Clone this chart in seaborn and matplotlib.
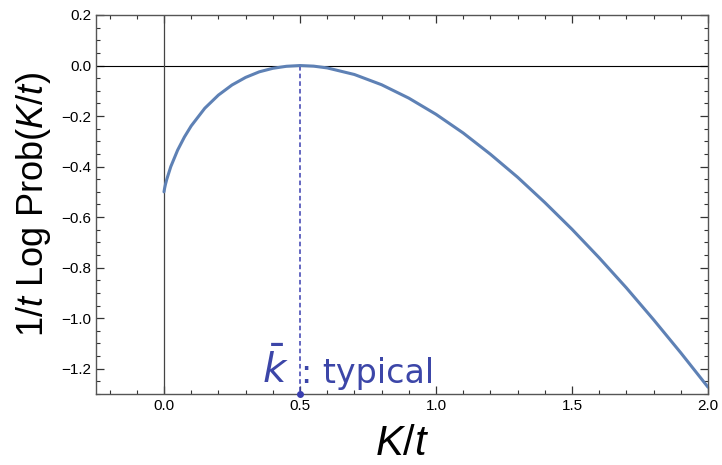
import numpy as np
import pandas as pd
import matplotlib
matplotlib.use("Agg")
import matplotlib.pyplot as plt
from matplotlib.ticker import MultipleLocator
import seaborn as sns

# Data
k_vals = [0.0, 0.002, 0.005, 0.01, 0.025, 0.05, 0.075, 0.1, 0.15, 0.2, 0.25, 0.3, 0.35,
          0.4, 0.45, 0.5, 0.55, 0.6, 0.7, 0.8, 0.9, 1.0, 1.1, 1.2, 1.3, 1.4, 1.5,
          1.6, 1.7, 1.8, 1.9, 2.0]
logprob = [-0.500, -0.487, -0.472, -0.451, -0.400, -0.335, -0.283, -0.239, -0.169, -0.117,
           -0.077, -0.047, -0.025, -0.011, -0.003, 0.000, -0.0024, -0.0094, -0.0355, -0.0760,
           -0.129, -0.193, -0.267, -0.351, -0.442, -0.542, -0.648, -0.761, -0.880,
           -1.006, -1.137, -1.273]
k_typical = 0.5
x_ticks = [0.0, 0.5, 1.0, 1.5, 2.0]
y_ticks = [0.2, 0.0, -0.2, -0.4, -0.6, -0.8, -1.0, -1.2]

df = pd.DataFrame({"k": k_vals, "lp": logprob})

sns.set_style("ticks")
plt.rcParams["font.family"] = ["Liberation Sans", "DejaVu Sans"]
plt.rcParams["mathtext.fontset"] = "custom"
plt.rcParams["mathtext.rm"] = "Liberation Sans"
plt.rcParams["mathtext.it"] = "Liberation Sans:italic"
plt.rcParams["text.color"] = "black"
plt.rcParams["axes.labelcolor"] = "black"

fig = plt.figure(figsize=(7.22, 4.65), dpi=100)
ax = fig.add_axes([96/722, 1-394/465, (708-96)/722, (394-15)/465])

ax.axhline(0, color="black", lw=0.8, zorder=1)
ax.axvline(0, color="#444444", lw=0.9, zorder=1)

sns.lineplot(data=df, x="k", y="lp", ax=ax, color="#5E81B5", lw=2.2, sort=False,
             estimator=None, zorder=3)

ax.plot([k_typical, k_typical], [0, -1.3], ls=(0, (3, 2)), color="#3A3FB0", lw=1.1, zorder=2)
ax.plot([k_typical], [-1.3], "o", color="#3A3FB0", ms=4, clip_on=False, zorder=4)

ax.text(0.36, -1.255, r"$\bar{k}$", fontsize=29, color="#3C46A8", math_fontfamily="dejavusans",
        ha="left", va="baseline")
ax.text(0.505, -1.255, ": typical", fontsize=24, color="#3C46A8", family="DejaVu Sans",
        ha="left", va="baseline")

ax.set_xlim(-0.25, 2.0)
ax.set_ylim(-1.3, 0.2)
ax.set_xticks(x_ticks)
ax.set_yticks(y_ticks)
ax.set_xticklabels([f"{v:.1f}" for v in x_ticks])
ax.set_yticklabels([f"{v:.1f}".replace("-", "\u2212") if v != 0 else "0.0" for v in y_ticks])
ax.xaxis.set_minor_locator(MultipleLocator(0.1))
ax.yaxis.set_minor_locator(MultipleLocator(0.05))
ax.tick_params(which="both", direction="in", top=True, right=True, color="#333333",
               labelsize=11, labelcolor="black")
ax.tick_params(which="major", length=6, width=0.9)
ax.tick_params(which="minor", length=3, width=0.8)
for s in ax.spines.values():
    s.set_color("#555555")
    s.set_linewidth(1.0)

ax.set_xlabel(r"$K/t$", fontsize=30, labelpad=8)
ax.set_ylabel(r"$1/t$ Log Prob$(K/t)$", fontsize=26, labelpad=6)

fig.savefig("out.png", dpi=100)
